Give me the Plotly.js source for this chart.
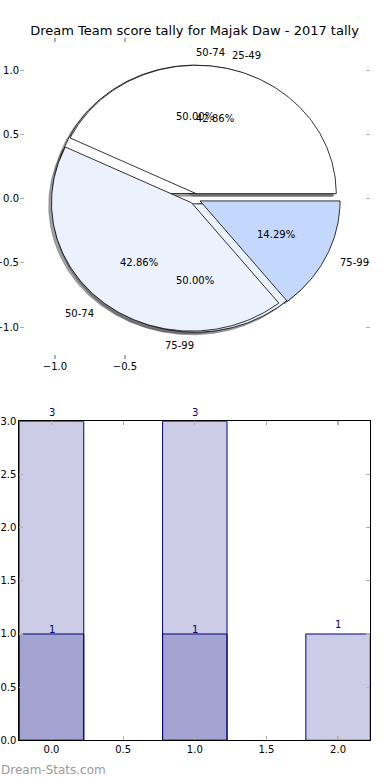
<!DOCTYPE html>
<html>
<head>
<meta charset="utf-8">
<script src="https://cdn.plot.ly/plotly-3.0.1.min.js"></script>
<style>html,body{margin:0;padding:0;background:#fff;}#chart{width:390px;height:780px;}</style>
</head>
<body>
<div id="chart"></div>
<script>
// ---- data ----
const pie1Labels = ['25-49', '50-74', '75-99'];
const pie1Values = [3, 3, 1];
const pie2Labels = ['50-74', '75-99'];
const pie2Values = [1, 1];
const barPositions = [0, 1, 2];
const barsA = [3, 3, 1];
const barsB = [1, 1];
const pieXTicks = [-1, -0.5];
const pieYTicks = [-1, -0.5, 0, 0.5, 1];
const barXTicks = [0, 0.5, 1, 1.5, 2];
const barYTicks = [0, 0.5, 1, 1.5, 2, 2.5, 3];
const titleText = 'Dream Team score tally for Majak Daw - 2017 tally';

// ---- style ----
const pie1Colors = ['#ffffff', '#ebf1fd', '#c4d8fe'];
const pie2Colors = ['#ffffff', '#ebf1fd'];
const FONT = 'DejaVu Sans';
const EXPLODE = 0.04, LABEL_D = 1.1, PCT_D = 0.6, SH = 0.02;

function wedges(values) {
  const total = values.reduce((a, b) => a + b, 0);
  let start = 0;
  return values.map(v => {
    const t1 = start, t2 = start + v / total * 360;
    start = t2;
    const mid = (t1 + t2) / 2 * Math.PI / 180;
    const cx = EXPLODE * Math.cos(mid), cy = EXPLODE * Math.sin(mid);
    const xs = [cx], ys = [cy];
    const n = Math.max(2, Math.ceil(t2 - t1));
    for (let i = 0; i <= n; i++) {
      const a = (t1 + (t2 - t1) * i / n) * Math.PI / 180;
      xs.push(cx + Math.cos(a)); ys.push(cy + Math.sin(a));
    }
    xs.push(cx); ys.push(cy);
    return {xs, ys, mid, cx, cy, pct: v / total * 100};
  });
}

function shade(hex) {
  const r = parseInt(hex.slice(1, 3), 16), g = parseInt(hex.slice(3, 5), 16), b = parseInt(hex.slice(5, 7), 16);
  return `rgba(${Math.round(r * 0.3)},${Math.round(g * 0.3)},${Math.round(b * 0.3)},0.5)`;
}

const w1 = wedges(pie1Values), w2 = wedges(pie2Values);
const traces = [];
const annotations = [];

// shadows first (below all wedges)
[[w2, pie2Colors], [w1, pie1Colors]].forEach(([ws, cols]) => {
  ws.forEach((w, i) => traces.push({
    type: 'scatter', mode: 'lines', xaxis: 'x', yaxis: 'y',
    x: w.xs.map(v => v - SH), y: w.ys.map(v => v - SH),
    fill: 'toself', fillcolor: shade(cols[i]),
    line: {color: shade(cols[i]), width: 0.8}, hoverinfo: 'skip', showlegend: false
  }));
});
// wedges: pie2 below, pie1 on top
[[w2, pie2Colors], [w1, pie1Colors]].forEach(([ws, cols]) => {
  ws.forEach((w, i) => traces.push({
    type: 'scatter', mode: 'lines', xaxis: 'x', yaxis: 'y',
    x: w.xs, y: w.ys, fill: 'toself', fillcolor: cols[i],
    line: {color: '#000000', width: 0.8}, hoverinfo: 'skip', showlegend: false
  }));
});
// labels
[[w2, pie2Labels], [w1, pie1Labels]].forEach(([ws, labs]) => {
  ws.forEach((w, i) => {
    const lx = w.cx + LABEL_D * Math.cos(w.mid), ly = w.cy + LABEL_D * Math.sin(w.mid);
    annotations.push({xref: 'x', yref: 'y', x: lx, y: ly, text: labs[i], showarrow: false,
      xanchor: lx > 0 ? 'left' : 'right', yanchor: 'middle', borderpad: 0,
      font: {family: FONT, size: 10, color: '#000'}});
    const px = w.cx + PCT_D * Math.cos(w.mid), py = w.cy + PCT_D * Math.sin(w.mid);
    annotations.push({xref: 'x', yref: 'y', x: px, y: py, text: w.pct.toFixed(2) + '%', showarrow: false,
      xanchor: 'center', yanchor: 'middle', borderpad: 0,
      font: {family: FONT, size: 10, color: '#000'}});
  });
});

// bars
traces.push({type: 'bar', xaxis: 'x2', yaxis: 'y2', x: barPositions, y: barsA, width: 0.45,
  marker: {color: 'rgba(0,0,128,0.2)', line: {color: '#000080', width: 1}}, hoverinfo: 'skip', showlegend: false});
traces.push({type: 'bar', xaxis: 'x2', yaxis: 'y2', x: barPositions.slice(0, barsB.length), y: barsB, width: 0.45,
  marker: {color: 'rgba(0,0,128,0.2)', line: {color: '#000080', width: 1}}, hoverinfo: 'skip', showlegend: false});
barsA.forEach((v, i) => annotations.push({xref: 'x2', yref: 'y2', x: barPositions[i], y: v, text: String(v),
  showarrow: false, yanchor: 'middle', yshift: 9, borderpad: 0, font: {family: FONT, size: 10, color: '#000080'}}));
barsB.forEach((v, i) => annotations.push({xref: 'x2', yref: 'y2', x: barPositions[i], y: v, text: String(v),
  showarrow: false, yanchor: 'middle', yshift: 4, borderpad: 0, font: {family: FONT, size: 10, color: '#000080'}}));

annotations.push({xref: 'paper', yref: 'paper', x: 0, y: (780 - 770) / 780, xanchor: 'left', yanchor: 'middle',
  text: 'Dream-Stats.com', showarrow: false, borderpad: 0, font: {family: FONT, size: 12, color: '#9a9a9a'}});

const tickCommon = {ticks: 'inside', ticklen: 4, tickwidth: 1.2, tickcolor: '#b0b0b0', showgrid: false, zeroline: false,
  tickfont: {family: FONT, size: 10, color: '#000'}, tickformat: '.1f', tickmode: 'array', fixedrange: true};

const layout = {
  width: 390, height: 780, margin: {l: 0, r: 0, t: 0, b: 0},
  paper_bgcolor: '#ffffff', plot_bgcolor: 'rgba(0,0,0,0)',
  font: {family: FONT, size: 10, color: '#000'},
  title: {text: titleText, x: 194.5 / 390, xref: 'paper', y: (780 - 30) / 780, yref: 'container',
    xanchor: 'center', yanchor: 'middle', font: {family: FONT, size: 13, color: '#000'}},
  showlegend: false, barmode: 'overlay',
  xaxis: Object.assign({}, tickCommon, {domain: [20 / 390, 370 / 390], range: [-1.25, 1.25], tickvals: pieXTicks,
    showline: false, mirror: 'ticks', anchor: 'y'}),
  yaxis: Object.assign({}, tickCommon, {domain: [(780 - 359.2) / 780, (780 - 38.2) / 780], range: [-1.25, 1.25],
    tickvals: pieYTicks, showline: false, mirror: 'ticks', anchor: 'x'}),
  xaxis2: Object.assign({}, tickCommon, {domain: [19.3 / 390, 370.3 / 390], range: [-0.225, 2.225], tickvals: barXTicks,
    showline: true, linecolor: '#000', linewidth: 1, mirror: 'ticks', anchor: 'y2'}),
  yaxis2: Object.assign({}, tickCommon, {domain: [(780 - 740.3) / 780, (780 - 421.3) / 780], range: [0, 3],
    tickvals: barYTicks, showline: true, linecolor: '#000', linewidth: 1, mirror: 'ticks', anchor: 'x2'}),
  annotations: annotations
};

Plotly.newPlot('chart', traces, layout, {displayModeBar: false, staticPlot: true});
</script>
</body>
</html>
